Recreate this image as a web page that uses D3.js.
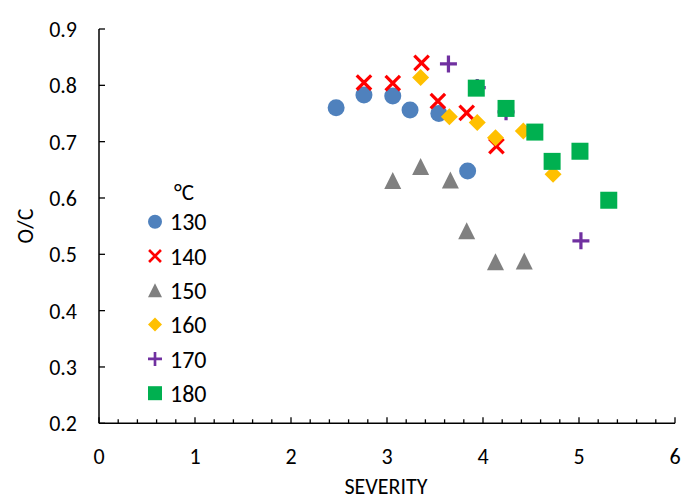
<!DOCTYPE html>
<html><head><meta charset="utf-8">
<script src="https://cdn.jsdelivr.net/npm/d3@7"></script>
<style>body{margin:0;background:#fff}svg{display:block}text{font-family:Calibri,Carlito,Lato,"Open Sans",sans-serif;fill:#000}</style>
</head><body>
<script>
const seriesNames = ["130","140","150","160","170","180"];
const s130 = [[2.47,0.760],[2.76,0.783],[3.06,0.781],[3.24,0.756],[3.54,0.750],[3.84,0.648]];
const s140 = [[2.76,0.805],[3.06,0.804],[3.36,0.840],[3.53,0.772],[3.83,0.751],[4.14,0.692]];
const s150 = [[3.06,0.631],[3.35,0.656],[3.66,0.632],[3.83,0.542],[4.13,0.487],[4.43,0.488]];
const s160 = [[3.35,0.814],[3.65,0.744],[3.94,0.734],[4.13,0.707],[4.42,0.719],[4.73,0.642]];
const s170 = [[3.64,0.838],[3.94,0.796],[4.24,0.753],[5.02,0.524]];
const s180 = [[3.93,0.795],[4.24,0.759],[4.54,0.717],[4.72,0.665],[5.01,0.683],[5.31,0.596]];
const xTicks = [0,1,2,3,4,5,6];
const yTicks = [0.2,0.3,0.4,0.5,0.6,0.7,0.8,0.9];
const xTitle = "SEVERITY", yTitle = "O/C", legendTitle = "°C";

const seriesData = [s130,s140,s150,s160,s170,s180];
const colors = ["#4f81bd","#ff0000","#808080","#ffc000","#7030a0","#00b050"];
const shapes = ["circle","x","triangle","diamond","plus","square"];

const W=683,H=502;
const svg=d3.select("body").append("svg").attr("width",W).attr("height",H);
const x=d3.scaleLinear().domain([0,6]).range([99,675]);
const y=d3.scaleLinear().domain([0.2,0.9]).range([423.3,29]);

// axes
const xAxis=svg.append("g").attr("transform",`translate(0,${y(0.2)})`);
xAxis.append("line").attr("x1",x(0)).attr("x2",x(6)).attr("stroke","#000").attr("stroke-width",1.5);
const minor=d3.range(0,30.5,1).map(d=>d*0.2);
xAxis.selectAll("line.t").data(minor).enter().append("line").attr("class","t")
  .attr("x1",d=>x(d)).attr("x2",d=>x(d)).attr("y1",0)
  .attr("y2",(d,i)=>i%5===0?-6:-4).attr("stroke","#000").attr("stroke-width",1.3);
xAxis.selectAll("text").data(xTicks).enter().append("text")
  .attr("x",d=>x(d)).attr("y",41).attr("text-anchor","middle").attr("font-size",22).text(d=>d);

const yAxis=svg.append("g").attr("transform",`translate(${x(0)},0)`);
yAxis.append("line").attr("y1",y(0.2)).attr("y2",y(0.9)).attr("stroke","#000").attr("stroke-width",1.5);
yAxis.selectAll("line.t").data(yTicks).enter().append("line").attr("class","t")
  .attr("x1",0).attr("x2",6).attr("y1",d=>y(d)).attr("y2",d=>y(d)).attr("stroke","#000").attr("stroke-width",1.3);
yAxis.selectAll("text").data(yTicks).enter().append("text")
  .attr("x",-22).attr("y",d=>y(d)).attr("dy","0.36em").attr("text-anchor","end").attr("font-size",22).text(d=>d.toFixed(1));

svg.append("text").attr("x",386).attr("y",494).attr("text-anchor","middle").attr("font-size",22).text(xTitle);
svg.append("text").attr("transform","translate(33,226) rotate(-90)").attr("text-anchor","middle").attr("font-size",22).text(yTitle);

function drawMarker(g,shape,color,s){
  const h=s/2;
  if(shape==="circle") g.append("circle").attr("r",h).attr("fill",color);
  else if(shape==="square") g.append("rect").attr("x",-h).attr("y",-h).attr("width",s).attr("height",s).attr("fill",color);
  else if(shape==="diamond") g.append("path").attr("d",`M0,${-h}L${h},0L0,${h}L${-h},0Z`).attr("fill",color);
  else if(shape==="triangle") g.append("path").attr("d",`M0,${-h}L${h},${h}L${-h},${h}Z`).attr("fill",color);
  else if(shape==="x") g.append("path").attr("d",`M${-h*0.85},${-h*0.85}L${h*0.85},${h*0.85}M${h*0.85},${-h*0.85}L${-h*0.85},${h*0.85}`).attr("stroke",color).attr("stroke-width",s*0.19).attr("fill","none");
  else if(shape==="plus") g.append("path").attr("d",`M${-h},0L${h},0M0,${-h}L0,${h}`).attr("stroke",color).attr("stroke-width",s*0.19).attr("fill","none");
}

seriesData.forEach((data,i)=>{
  const g=svg.append("g");
  data.forEach(p=>{
    const m=g.append("g").attr("transform",`translate(${x(p[0])},${y(p[1])})`);
    drawMarker(m,shapes[i],colors[i],17);
  });
});

// legend
const lg=svg.append("g");
lg.append("text").attr("x",174).attr("y",200).attr("font-size",23).text(legendTitle);
seriesNames.forEach((n,i)=>{
  const cy=221.7+i*34.3;
  const m=lg.append("g").attr("transform",`translate(155,${cy})`);
  drawMarker(m,shapes[i],colors[i],14);
  lg.append("text").attr("x",170).attr("y",cy).attr("dy","0.36em").attr("font-size",24).text(n);
});
</script>
</body></html>
